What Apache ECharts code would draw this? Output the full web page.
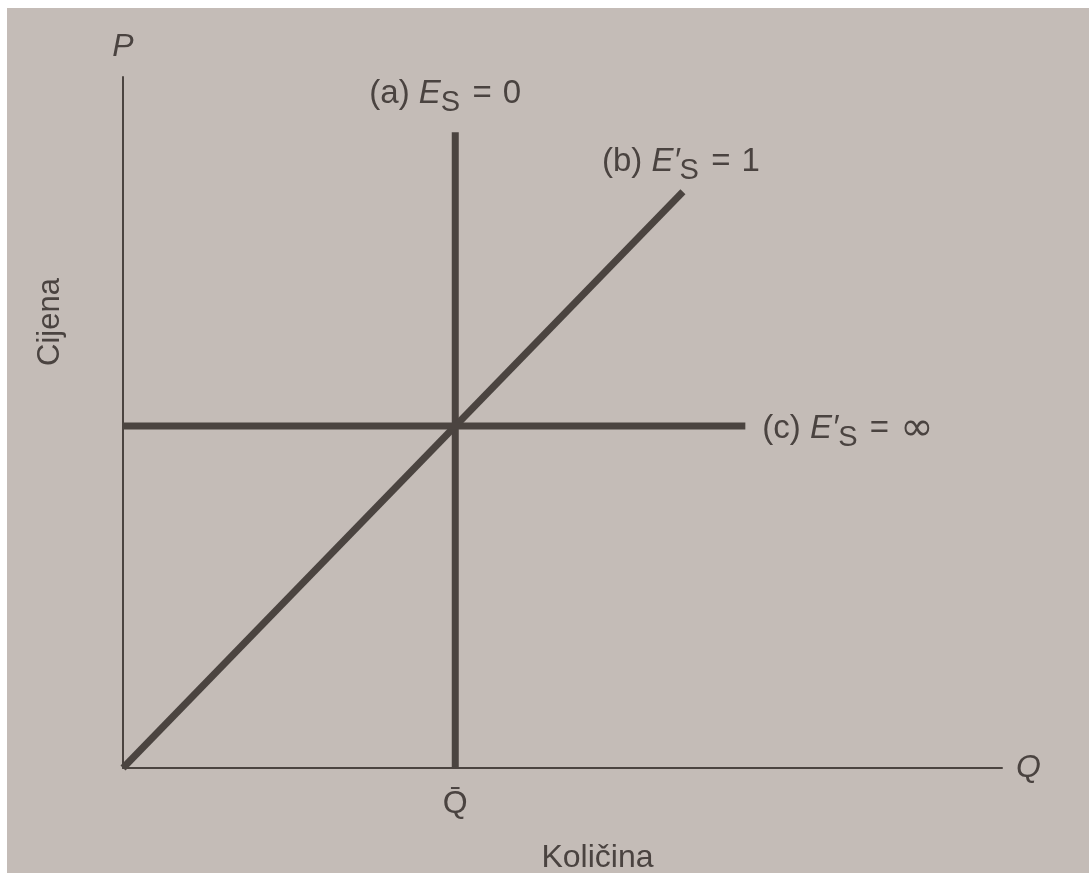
<!DOCTYPE html>
<html><head><meta charset="utf-8">
<script src="https://cdn.jsdelivr.net/npm/echarts@6/dist/echarts.min.js"></script>
<style>
html,body{margin:0;padding:0;background:#ffffff;width:1089px;height:873px;overflow:hidden}
#main{position:absolute;left:7px;top:8px;width:1082px;height:865px}
</style></head>
<body><div id="main"></div>
<script>
// Data (abstract units, axes 0..100)
const qBar = 37.8;            // fixed quantity (vertical supply)
const pStar = 49.5;           // price level (horizontal supply)
const supplyA = [[qBar, 0], [qBar, 92]];          // E_S = 0
const supplyB = [[0, 0], [63.7, 83.4]];          // E'_S = 1
const supplyC = [[0, pStar], [70.8, pStar]];     // E'_S = ∞
const labelA = '(a) {i|E}{s|S} {e|=} 0';
const labelB = '(b) {i|E′}{s|S} {e|=} 1';
const labelC = '(c) {i|E′}{s|S} {e|=} {inf|∞}';
const xName = 'Q', yName = 'P';
const xTitle = 'Količina', yTitle = 'Cijena';
const qBarLabel = 'Q\u0304';

const ink = '#4b4440';
const txt = '#4a4340';
const font = 'Liberation Sans, Arial, sans-serif';
const rich = {
  i: {fontStyle: 'italic', fontSize: 33, color: txt, fontFamily: font},
  s: {fontSize: 29, color: txt, fontFamily: font, padding: [18, 1, 0, 0]},
  e: {fontSize: 33, color: txt, fontFamily: font, padding: [0, 2, 0, 2]},
  inf: {fontSize: 40, color: txt, fontFamily: 'DejaVu Sans, sans-serif', padding: [2, 0, 0, 0]}
};

const chart = echarts.init(document.getElementById('main'));
function lineSeries(d) {
  return {type: 'line', data: d, symbol: 'none', silent: true,
    lineStyle: {color: ink, width: 7, cap: 'butt'}, z: 3};
}
chart.setOption({
  backgroundColor: '#c4bcb7',
  animation: false,
  grid: {left: 116, right: 87, top: 69, bottom: 105},
  xAxis: {type: 'value', min: 0, max: 100,
    axisLine: {show: true, lineStyle: {color: ink, width: 2}},
    axisTick: {show: false}, splitLine: {show: false},
    axisLabel: {show: true, customValues: [qBar], formatter: () => qBarLabel,
      color: txt, fontSize: 32, fontFamily: font, margin: 20},
    name: xName, nameLocation: 'end', nameGap: 14,
    nameTextStyle: {fontStyle: 'italic', fontSize: 32, color: txt, fontFamily: font}
  },
  yAxis: {type: 'value', min: 0, max: 100,
    axisLine: {show: true, lineStyle: {color: ink, width: 2}},
    axisTick: {show: false}, splitLine: {show: false}, axisLabel: {show: false},
    name: yName, nameLocation: 'end', nameGap: 14,
    nameTextStyle: {fontStyle: 'italic', fontSize: 32, color: txt, fontFamily: font}
  },
  series: [lineSeries(supplyA), lineSeries(supplyB), lineSeries(supplyC)]
});

function px(p) { return chart.convertToPixel({gridIndex: 0}, p); }
const a = px(supplyA[1]), b = px(supplyB[1]), c = px(supplyC[1]);
const o = px([0, 0]), xEnd = px([100, 0]);
chart.setOption({
  graphic: [
    {type: 'text', x: a[0] - 10, y: a[1] - 38, style: {text: labelA, rich: rich,
      fill: txt, font: '33px ' + font, align: 'center', verticalAlign: 'middle'}},
    {type: 'text', x: b[0] - 2, y: b[1] - 30, style: {text: labelB, rich: rich,
      fill: txt, font: '33px ' + font, align: 'center', verticalAlign: 'middle'}},
    {type: 'text', x: c[0] + 17, y: c[1] + 3, style: {text: labelC, rich: rich,
      fill: txt, font: '33px ' + font, align: 'left', verticalAlign: 'middle'}},
    {type: 'text', x: (o[0] + xEnd[0]) / 2 + 35, y: o[1] + 90, style: {text: xTitle,
      fill: txt, font: '32px ' + font, align: 'center', verticalAlign: 'middle'}},
    {type: 'text', x: 43, y: 314, rotation: Math.PI / 2, style: {text: yTitle,
      fill: txt, font: '31px ' + font, align: 'center', verticalAlign: 'middle'}}
  ]
});
</script></body></html>
